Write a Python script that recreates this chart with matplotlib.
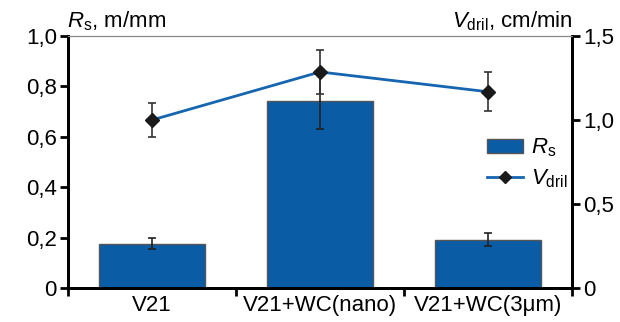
import matplotlib
matplotlib.use("Agg")
import matplotlib.pyplot as plt
import numpy as np
from matplotlib.patches import Patch
from matplotlib.lines import Line2D

plt.rcParams["font.family"] = ["Liberation Sans", "DejaVu Sans"]
plt.rcParams["mathtext.fontset"] = "custom"
plt.rcParams["mathtext.it"] = "Liberation Sans:italic"
plt.rcParams["mathtext.rm"] = "Liberation Sans"

CATEGORIES = ["V21", "V21+WC(nano)", "V21+WC(3\u03bcm)"]
RS_VALUES  = [0.175, 0.741, 0.192]
RS_ERR     = [0.022, 0.111, 0.026]
VD_VALUES  = [1.00, 1.286, 1.168]
VD_ERR     = [0.10, 0.13, 0.115]
LEFT_TICKS  = [0, 0.2, 0.4, 0.6, 0.8, 1.0]
RIGHT_TICKS = [0, 0.5, 1.0, 1.5]

C_BAR  = "#0a5ca5"
C_LINE = "#1565b0"
FS = 16


def comma(v):
    return "0" if v == 0 else f"{v:.1f}".replace(".", ",")


fig = plt.figure(figsize=(6.2, 3.22), dpi=100)
ax = fig.add_axes([0.1097, 0.1056, 0.8129, 0.7826])
x = np.arange(len(CATEGORIES))

ax.bar(x, RS_VALUES, width=0.63, color=C_BAR, edgecolor="#555555", lw=1.0, zorder=2)
ax.errorbar(x, RS_VALUES, yerr=RS_ERR, fmt="none", ecolor="#222222",
            elinewidth=1.2, capsize=3, capthick=1.2, zorder=3)
ax.set_xlim(-0.5, 2.5)
ax.set_ylim(0, 1.0)
ax.set_yticks(LEFT_TICKS)
ax.set_yticklabels([comma(v) for v in LEFT_TICKS])
ax.set_xticks([-0.5, 0.5, 1.5, 2.5])
ax.set_xticklabels([])
ax.set_xticks(x, minor=True)
ax.set_xticklabels(CATEGORIES, minor=True)
ax.tick_params(axis="x", which="minor", length=0, labelsize=FS, pad=5)
ax.tick_params(axis="x", which="major", length=6, width=2)
ax.tick_params(axis="y", length=6, width=2, labelsize=FS, pad=2)

ax2 = ax.twinx()
ax2.errorbar(x, VD_VALUES, yerr=VD_ERR, fmt="none", ecolor="#333333",
             elinewidth=1.2, capsize=3, capthick=1.2, zorder=3)
ax2.plot(x, VD_VALUES, color=C_LINE, lw=2, marker="D", ms=7.5,
         mfc="#1a1a1a", mec="#1a1a1a", zorder=4)
ax2.set_ylim(0, 1.5)
ax2.set_yticks(RIGHT_TICKS)
ax2.set_yticklabels([comma(v) for v in RIGHT_TICKS])
ax2.tick_params(axis="y", length=6, width=2, labelsize=FS, pad=2)

for a in (ax, ax2):
    a.spines["left"].set_linewidth(2)
    a.spines["right"].set_linewidth(2)
    a.spines["bottom"].set_linewidth(2)
    a.spines["top"].set_linewidth(0.8)
    a.spines["top"].set_color("#888888")

fig.text(0.108, 0.916, r"$R_{\mathrm{s}}$, m/mm", ha="left", va="baseline", fontsize=FS)
fig.text(0.924, 0.916, r"$V_{\mathrm{dril}}$, cm/min", ha="right", va="baseline", fontsize=FS)

handles = [Patch(facecolor=C_BAR, edgecolor="#555555"),
           Line2D([], [], color=C_LINE, lw=2, marker="D", ms=6.5, mfc="#1a1a1a", mec="#1a1a1a")]
ax2.legend(handles, [r"$R_{\mathrm{s}}$", r"$V_{\mathrm{dril}}$"], loc="upper right",
           bbox_to_anchor=(1.03, 0.68), frameon=False, fontsize=FS,
           handlelength=1.6, handleheight=0.6, handletextpad=0.35, labelspacing=0.35)

fig.savefig("out.png", dpi=100)
